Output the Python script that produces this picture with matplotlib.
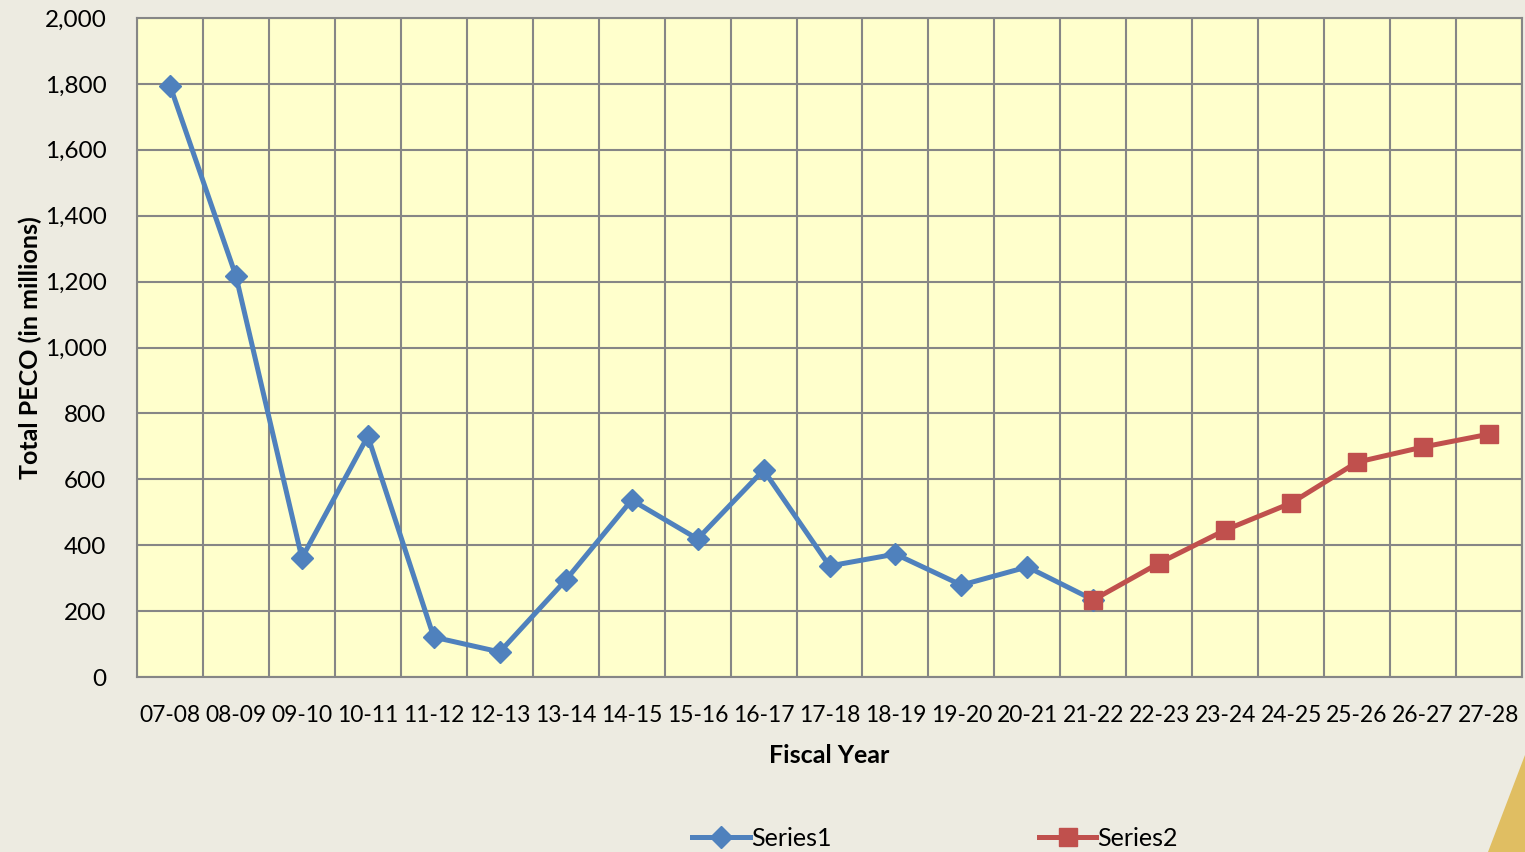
import matplotlib.pyplot as plt
from matplotlib.patches import Polygon

years = ["07-08", "08-09", "09-10", "10-11", "11-12", "12-13", "13-14", "14-15",
         "15-16", "16-17", "17-18", "18-19", "19-20", "20-21", "21-22", "22-23",
         "23-24", "24-25", "25-26", "26-27", "27-28"]
series1 = [1795, 1217, 361, 731, 121, 76, 294, 537, 419, 628, 337, 373, 279, 334, 234]
series2 = [234, 346, 446, 528, 652, 698, 737]

bg = "#EDEBE1"
fs = 18
plt.rcParams['font.family'] = ['Lato', 'DejaVu Sans']

fig = plt.figure(figsize=(15.25, 8.52), dpi=100, facecolor=bg)
ax = fig.add_axes([137 / 1525, 1 - 677 / 852, (1522 - 137) / 1525, (677 - 18) / 852])
ax.set_facecolor("#FFFFCC")

x1 = list(range(len(series1)))
x2 = list(range(len(series1) - 1, len(series1) - 1 + len(series2)))
ax.plot(x1, series1, color="#4F81BD", lw=3.6, marker="D", ms=11, label="Series1", zorder=3)
ax.plot(x2, series2, color="#C0504D", lw=3.6, marker="s", ms=13, label="Series2", zorder=4)

ax.set_xlim(-0.5, len(years) - 0.5)
ax.set_ylim(0, 2000)
ax.set_xticks(range(len(years)))
ax.set_xticklabels(years)
ax.set_xticks([i - 0.5 for i in range(len(years) + 1)], minor=True)
ax.set_yticks(range(0, 2001, 200))
ax.set_yticklabels([f"{v:,}" for v in range(0, 2001, 200)])
ax.grid(True, which="minor", axis="x", color="#868686", lw=1.5)
ax.grid(True, which="major", axis="y", color="#868686", lw=1.5)
ax.tick_params(which="both", length=0)
ax.tick_params(axis="x", pad=20, labelsize=16.5)
ax.tick_params(axis="y", pad=22, labelsize=17.5)
for s in ax.spines.values():
    s.set_color("#868686")
    s.set_linewidth(1.5)
ax.set_axisbelow(True)

ax.set_xlabel("Fiscal Year", fontsize=fs, fontweight="bold", labelpad=13)
ax.set_ylabel("Total PECO (in millions)", fontsize=fs, fontweight="bold", labelpad=2)

fig.legend(loc="center", bbox_to_anchor=(935 / 1525, 1 - 838 / 852), ncol=2,
           frameon=False, fontsize=fs, handlelength=2.3, handletextpad=0.05,
           columnspacing=8.3)

tri = Polygon([(1488 / 1525, 0), (1, 1 - 755 / 852), (1, 0)], closed=True,
              transform=fig.transFigure, facecolor="#E0BE62", edgecolor="none")
fig.patches.append(tri)

fig.savefig("out.png", dpi=100, facecolor=bg)
